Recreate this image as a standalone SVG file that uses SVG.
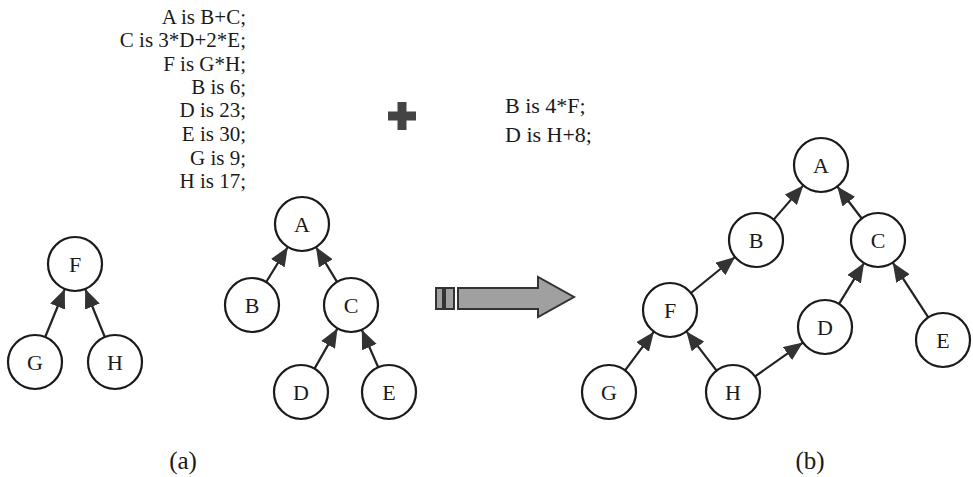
<svg xmlns="http://www.w3.org/2000/svg" width="973" height="477" viewBox="0 0 973 477">
<style>
text{font-family:"Liberation Serif","Times New Roman","DejaVu Serif",serif;fill:#1a1a1a}
.n circle{fill:#fff;stroke:#1a1a1a;stroke-width:2.2}
.n text{font-size:22px;text-anchor:middle}
.e line{stroke:#222;stroke-width:2.2;marker-end:url(#ah)}
.eq{font-size:21px;text-anchor:end}
.eq2{font-size:22px}
.lab{font-size:25px;text-anchor:middle}
</style>
<defs>
<marker id="ah" markerUnits="userSpaceOnUse" markerWidth="20" markerHeight="16" refX="19" refY="8" orient="auto">
<path d="M0,0 L19,8 L0,16 z" fill="#333"/>
</marker>
</defs>
<rect width="973" height="477" fill="#fff"/>
<g id="equations">
<text class="eq" x="246" y="24" font-family="Liberation Serif, serif">A is B+C;</text>
<text class="eq" x="246" y="47" font-family="Liberation Serif, serif">C is 3*D+2*E;</text>
<text class="eq" x="246" y="71" font-family="Liberation Serif, serif">F is G*H;</text>
<text class="eq" x="246" y="94" font-family="Liberation Serif, serif">B is 6;</text>
<text class="eq" x="246" y="117" font-family="Liberation Serif, serif">D is 23;</text>
<text class="eq" x="246" y="141" font-family="Liberation Serif, serif">E is 30;</text>
<text class="eq" x="246" y="165" font-family="Liberation Serif, serif">G is 9;</text>
<text class="eq" x="246" y="188" font-family="Liberation Serif, serif">H is 17;</text>
<text class="eq2" x="505" y="113" font-family="Liberation Serif, serif">B is 4*F;</text>
<text class="eq2" x="505" y="142" font-family="Liberation Serif, serif">D is H+8;</text>
</g>
<g id="plus" fill="#444">
<rect x="388" y="111.5" width="28" height="9"/>
<rect x="397.5" y="102" width="9" height="28"/>
</g>
<g id="bigarrow" fill="#a0a0a0" stroke="#333" stroke-width="2">
<rect x="436" y="288" width="7" height="21"/>
<rect x="445" y="288" width="9" height="21"/>
<polygon points="458,288 538,288 538,277 574,297 538,317 538,309 458,309"/>
</g>
<g id="connectors" class="e">
<line x1="45.2" y1="337" x2="64.8" y2="289"/>
<line x1="104.8" y1="337" x2="85.2" y2="289"/>
<line x1="266.2" y1="282" x2="287.8" y2="247"/>
<line x1="337" y1="281.9" x2="316" y2="247.1"/>
<line x1="314.5" y1="368.6" x2="337.5" y2="328.4"/>
<line x1="378.2" y1="367.3" x2="361.8" y2="329.7"/>
<line x1="773.7" y1="219.6" x2="803.3" y2="185.4"/>
<line x1="861.7" y1="218.5" x2="837.3" y2="186.5"/>
<line x1="690.9" y1="293" x2="735.1" y2="257"/>
<line x1="839" y1="303.9" x2="864" y2="263.1"/>
<line x1="928.3" y1="317.4" x2="892.7" y2="262.6"/>
<line x1="625.1" y1="370.3" x2="653.9" y2="331.7"/>
<line x1="716.6" y1="370.6" x2="686.4" y2="331.4"/>
<line x1="755.1" y1="376.4" x2="802.9" y2="342.6"/>
</g>
<g id="a-F" class="n"><circle cx="75" cy="264" r="27"/><text x="75" y="272" font-family="Liberation Serif, serif">F</text></g>
<g id="a-G" class="n"><circle cx="35" cy="362" r="27"/><text x="35" y="370" font-family="Liberation Serif, serif">G</text></g>
<g id="a-H" class="n"><circle cx="115" cy="362" r="27"/><text x="115" y="370" font-family="Liberation Serif, serif">H</text></g>
<g id="a-A" class="n"><circle cx="302" cy="224" r="27"/><text x="302" y="232" font-family="Liberation Serif, serif">A</text></g>
<g id="a-B" class="n"><circle cx="252" cy="305" r="27"/><text x="252" y="313" font-family="Liberation Serif, serif">B</text></g>
<g id="a-C" class="n"><circle cx="351" cy="305" r="27"/><text x="351" y="313" font-family="Liberation Serif, serif">C</text></g>
<g id="a-D" class="n"><circle cx="301" cy="392" r="27"/><text x="301" y="400" font-family="Liberation Serif, serif">D</text></g>
<g id="a-E" class="n"><circle cx="389" cy="392" r="27"/><text x="389" y="400" font-family="Liberation Serif, serif">E</text></g>
<g id="b-A" class="n"><circle cx="821" cy="165" r="27"/><text x="821" y="173" font-family="Liberation Serif, serif">A</text></g>
<g id="b-B" class="n"><circle cx="756" cy="240" r="27"/><text x="756" y="248" font-family="Liberation Serif, serif">B</text></g>
<g id="b-C" class="n"><circle cx="878" cy="240" r="27"/><text x="878" y="248" font-family="Liberation Serif, serif">C</text></g>
<g id="b-F" class="n"><circle cx="670" cy="310" r="27"/><text x="670" y="318" font-family="Liberation Serif, serif">F</text></g>
<g id="b-D" class="n"><circle cx="825" cy="327" r="27"/><text x="825" y="335" font-family="Liberation Serif, serif">D</text></g>
<g id="b-E" class="n"><circle cx="943" cy="340" r="27"/><text x="943" y="348" font-family="Liberation Serif, serif">E</text></g>
<g id="b-G" class="n"><circle cx="609" cy="392" r="27"/><text x="609" y="400" font-family="Liberation Serif, serif">G</text></g>
<g id="b-H" class="n"><circle cx="733" cy="392" r="27"/><text x="733" y="400" font-family="Liberation Serif, serif">H</text></g>
<g id="labels">
<text class="lab" x="183" y="469" font-family="Liberation Serif, serif">(a)</text>
<text class="lab" x="810" y="469" font-family="Liberation Serif, serif">(b)</text>
</g>
</svg>
